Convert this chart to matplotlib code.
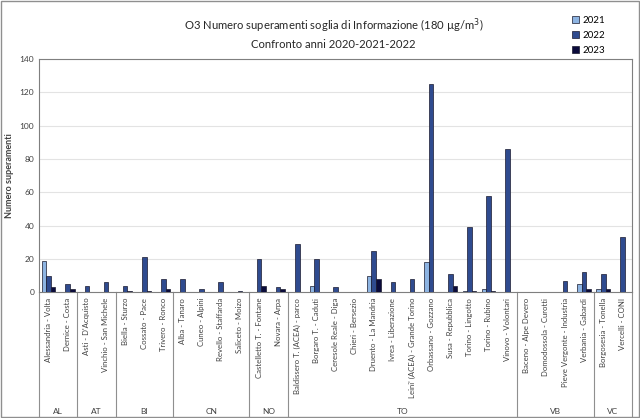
import matplotlib.pyplot as plt
import numpy as np
from matplotlib.patches import Rectangle

plt.rcParams['font.family'] = ['Lato', 'DejaVu Sans']

stations = ['Alessandria - Volta', 'Dernice - Costa',
            "Asti - D'Acquisto", 'Vinchio - San Michele',
            'Biella - Sturzo', 'Cossato - Pace', 'Trivero - Ronco',
            'Alba - Tanaro', 'Cuneo - Alpini', 'Revello - Staffarda', 'Saliceto - Moizo',
            'Castelletto T. - Fontane', 'Novara - Arpa',
            'Baldissero T. (ACEA) - parco', 'Borgaro T. - Caduti', 'Ceresole Reale - Diga',
            'Chieri - Bersezio', 'Druento - La Mandria', 'Ivrea - Liberazione',
            "Leini' (ACEA) - Grande Torino", 'Orbassano - Gozzano', 'Susa - Repubblica',
            'Torino - Lingotto', 'Torino - Rubino', 'Vinovo - Volontari',
            'Baceno - Alpe Devero', 'Domodossola - Curotti', 'Pieve Vergonte - Industria',
            'Verbania - Gabardi',
            'Borgosesia - Tonella', 'Vercelli - CONI']
provinces = ['AL', 'AT', 'BI', 'CN', 'NO', 'TO', 'VB', 'VC']
province_sizes = [2, 2, 3, 4, 2, 12, 4, 2]

v2021 = [19, 0, 0, 0, 0, 0, 0, 0, 0, 0, 0, 0, 0,
         0, 4, 0, 0, 10, 0, 0, 18, 0, 1, 2, 0,
         0, 0, 0, 5, 2, 0]
v2022 = [10, 5, 4, 6, 4, 21, 8, 8, 2, 6, 1, 20, 3,
         29, 20, 3, 0, 25, 6, 8, 125, 11, 39, 58, 86,
         0, 0, 7, 12, 11, 33]
v2023 = [3, 2, 0, 0, 1, 1, 2, 0, 0, 0, 0, 4, 2,
         0, 0, 0, 0, 8, 0, 0, 0, 4, 1, 1, 0,
         0, 0, 0, 2, 2, 0]
years = ['2021', '2022', '2023']
colors = ['#8db4e2', '#2f4b8f', '#0b0b3b']

fig = plt.figure(figsize=(6.4, 4.18), dpi=100)
ax = fig.add_axes([0.061, 0.301, 0.9265, 0.558])

x = np.arange(len(stations))
w = 0.24
for i, (vals, c, lab) in enumerate(zip([v2021, v2022, v2023], colors, years)):
    ax.bar(x + (i - 1) * w, vals, width=w, color=c, edgecolor='#1a1a2e',
           linewidth=0.5, label=lab, zorder=3)

ax.set_xlim(-0.5, len(stations) - 0.5)
ax.set_ylim(0, 140)
ax.set_yticks(range(0, 141, 20))
ax.yaxis.grid(True, color='#e3e3e3', linewidth=0.8, zorder=0)
ax.tick_params(axis='y', length=0, labelsize=6, labelcolor='#404040')
ax.set_xticks(x)
ax.set_xticklabels(stations, rotation=90, fontsize=5.6, color='#404040')
ax.tick_params(axis='x', length=0, pad=4)
for s in ax.spines.values():
    s.set_color('#7f7f7f')
    s.set_linewidth(0.8)
ax.set_ylabel('Numero superamenti', fontsize=6.5, fontweight='bold', color='#404040')

# province grouping below the axis
bounds = np.concatenate([[0], np.cumsum(province_sizes)])
trans = ax.get_xaxis_transform()
for b in bounds:
    ax.plot([b - 0.5, b - 0.5], [0, -0.54], transform=trans, color='#8f8f8f',
            linewidth=0.8, clip_on=False)
for p, a, b in zip(provinces, bounds[:-1], bounds[1:]):
    ax.text((a + b - 1) / 2, -0.51, p, transform=trans, ha='center', va='center',
            fontsize=6, color='#404040')

fig.text(0.521, 0.92, 'O3 Numero superamenti soglia di Informazione (180 µg/m$^3$)\nConfronto anni 2020-2021-2022',
         ha='center', va='center', fontsize=8.1, color='#262626', linespacing=1.5)

ax.legend(loc='upper left', bbox_to_anchor=(0.893, 1.2), frameon=False,
          fontsize=7, handlelength=0.7, handleheight=0.7, handletextpad=0.3,
          labelspacing=0.6, borderaxespad=0)

fig.patches.append(Rectangle((0.002, 0.002), 0.996, 0.996, transform=fig.transFigure,
                             fill=False, edgecolor='#8f8f8f', linewidth=1))

fig.savefig('out.png', dpi=100)
